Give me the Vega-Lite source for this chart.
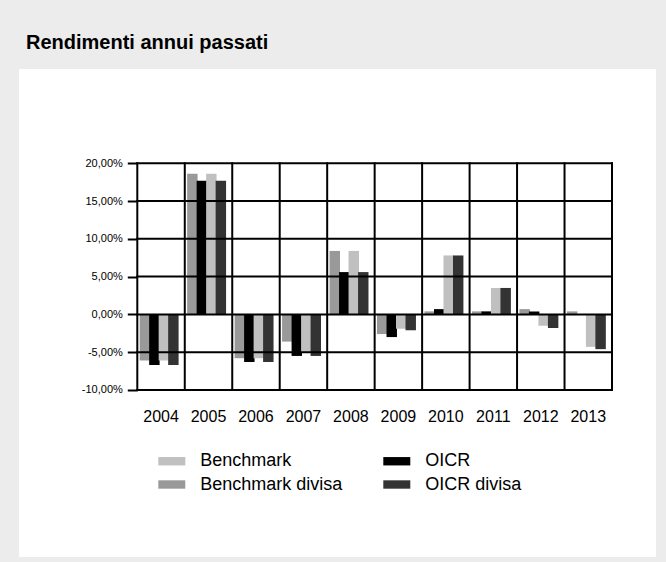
{
  "$schema": "https://vega.github.io/schema/vega-lite/v6.json",
  "width": 637,
  "height": 488,
  "autosize": {"type": "none"},
  "padding": {"left": 19, "top": 69, "right": 10, "bottom": 5},
  "background": "#ececec",
  "title": {
    "text": "Rendimenti annui passati",
    "anchor": "start",
    "frame": "group",
    "font": "Liberation Sans",
    "fontSize": 20,
    "fontWeight": "bold",
    "color": "#000000",
    "dx": 7,
    "offset": 16
  },
  "config": {
    "view": {"fill": "white", "stroke": null},
    "font": "Liberation Sans",
    "locale": {
      "number": {
        "decimal": ",",
        "thousands": ".",
        "grouping": [3],
        "currency": ["", " €"],
        "minus": "-"
      }
    }
  },
  "datasets": {
    "bars": [
      {"year": "2004", "series": "Benchmark divisa", "value": -0.061},
      {"year": "2004", "series": "OICR", "value": -0.067},
      {"year": "2004", "series": "Benchmark", "value": -0.061},
      {"year": "2004", "series": "OICR divisa", "value": -0.067},
      {"year": "2005", "series": "Benchmark divisa", "value": 0.186},
      {"year": "2005", "series": "OICR", "value": 0.177},
      {"year": "2005", "series": "Benchmark", "value": 0.186},
      {"year": "2005", "series": "OICR divisa", "value": 0.177},
      {"year": "2006", "series": "Benchmark divisa", "value": -0.058},
      {"year": "2006", "series": "OICR", "value": -0.063},
      {"year": "2006", "series": "Benchmark", "value": -0.058},
      {"year": "2006", "series": "OICR divisa", "value": -0.063},
      {"year": "2007", "series": "Benchmark divisa", "value": -0.036},
      {"year": "2007", "series": "OICR", "value": -0.055},
      {"year": "2007", "series": "Benchmark", "value": -0.051},
      {"year": "2007", "series": "OICR divisa", "value": -0.055},
      {"year": "2008", "series": "Benchmark divisa", "value": 0.084},
      {"year": "2008", "series": "OICR", "value": 0.056},
      {"year": "2008", "series": "Benchmark", "value": 0.084},
      {"year": "2008", "series": "OICR divisa", "value": 0.056},
      {"year": "2009", "series": "Benchmark divisa", "value": -0.026},
      {"year": "2009", "series": "OICR", "value": -0.030},
      {"year": "2009", "series": "Benchmark", "value": -0.019},
      {"year": "2009", "series": "OICR divisa", "value": -0.021},
      {"year": "2010", "series": "Benchmark divisa", "value": 0.004},
      {"year": "2010", "series": "OICR", "value": 0.007},
      {"year": "2010", "series": "Benchmark", "value": 0.078},
      {"year": "2010", "series": "OICR divisa", "value": 0.078},
      {"year": "2011", "series": "Benchmark divisa", "value": 0.004},
      {"year": "2011", "series": "OICR", "value": 0.004},
      {"year": "2011", "series": "Benchmark", "value": 0.035},
      {"year": "2011", "series": "OICR divisa", "value": 0.035},
      {"year": "2012", "series": "Benchmark divisa", "value": 0.007},
      {"year": "2012", "series": "OICR", "value": 0.004},
      {"year": "2012", "series": "Benchmark", "value": -0.015},
      {"year": "2012", "series": "OICR divisa", "value": -0.018},
      {"year": "2013", "series": "Benchmark divisa", "value": 0.004},
      {"year": "2013", "series": "OICR", "value": 0.0005},
      {"year": "2013", "series": "Benchmark", "value": -0.043},
      {"year": "2013", "series": "OICR divisa", "value": -0.046}
    ],
    "hgrid": [
      {"a": "2004", "b": "2013", "v": -0.1},
      {"a": "2004", "b": "2013", "v": -0.05},
      {"a": "2004", "b": "2013", "v": 0},
      {"a": "2004", "b": "2013", "v": 0.05},
      {"a": "2004", "b": "2013", "v": 0.1},
      {"a": "2004", "b": "2013", "v": 0.15},
      {"a": "2004", "b": "2013", "v": 0.2}
    ],
    "vgrid": [
      {"year": "2004", "lo": -0.1, "hi": 0.2},
      {"year": "2005", "lo": -0.1, "hi": 0.2},
      {"year": "2006", "lo": -0.1, "hi": 0.2},
      {"year": "2007", "lo": -0.1, "hi": 0.2},
      {"year": "2008", "lo": -0.1, "hi": 0.2},
      {"year": "2009", "lo": -0.1, "hi": 0.2},
      {"year": "2010", "lo": -0.1, "hi": 0.2},
      {"year": "2011", "lo": -0.1, "hi": 0.2},
      {"year": "2012", "lo": -0.1, "hi": 0.2},
      {"year": "2013", "lo": -0.1, "hi": 0.2}
    ],
    "vedge": [
      {"year": "2013", "lo": -0.1, "hi": 0.2}
    ]
  },
  "layer": [
    {
      "data": {"name": "bars"},
      "mark": {"type": "bar", "width": {"band": 1.1}},
      "encoding": {
        "x": {
          "field": "year",
          "type": "nominal",
          "title": null,
          "scale": {
            "type": "band",
            "domain": ["2004", "2005", "2006", "2007", "2008", "2009", "2010", "2011", "2012", "2013"],
            "range": [118.3, 593],
            "paddingInner": 0,
            "paddingOuter": 0
          },
          "axis": {
            "title": null,
            "offset": -167,
            "domain": false,
            "ticks": false,
            "grid": false,
            "labelAngle": 0,
            "labelFont": "Liberation Sans",
            "labelFontSize": 16,
            "labelColor": "#000000",
            "labelPadding": 18,
            "zindex": 2
          }
        },
        "xOffset": {
          "field": "series",
          "type": "nominal",
          "sort": ["Benchmark divisa", "OICR", "Benchmark", "OICR divisa"],
          "scale": {"paddingInner": 0, "paddingOuter": 0.5}
        },
        "y": {
          "field": "value",
          "type": "quantitative",
          "title": null,
          "stack": null,
          "scale": {"domain": [-0.3211, 0.3248], "nice": false, "zero": false},
          "axis": {
            "title": null,
            "values": [-0.1, -0.05, 0, 0.05, 0.1, 0.15, 0.2],
            "format": ".2%",
            "offset": -118.3,
            "domain": false,
            "grid": false,
            "ticks": true,
            "tickSize": 10,
            "tickWidth": 2,
            "tickColor": "#000000",
            "labelPadding": 5,
            "labelFont": "Liberation Sans",
            "labelFontSize": 11,
            "labelColor": "#000000",
            "zindex": 2
          }
        },
        "color": {
          "field": "series",
          "type": "nominal",
          "scale": {
            "domain": ["Benchmark", "Benchmark divisa", "OICR", "OICR divisa"],
            "range": ["#c0c0c0", "#999999", "#000000", "#333333"]
          },
          "legend": {
            "orient": "none",
            "legendX": 139.3,
            "legendY": 378.5,
            "columns": 2,
            "title": null,
            "padding": 0,
            "symbolType": "M-1,-0.31H1V0.31H-1Z",
            "symbolSize": 729,
            "symbolStrokeWidth": 0,
            "symbolOpacity": 1,
            "labelFont": "Liberation Sans",
            "labelFontSize": 18,
            "labelColor": "#000000",
            "labelOffset": 15,
            "labelLimit": 300,
            "columnPadding": 40,
            "rowPadding": 0.5
          }
        }
      }
    },
    {
      "data": {"name": "hgrid"},
      "mark": {"type": "rule", "stroke": "#000000", "strokeWidth": 2, "strokeCap": "square"},
      "encoding": {
        "x": {"field": "a", "type": "nominal", "title": null, "bandPosition": 0, "scale": {"type": "band"}},
        "x2": {"field": "b", "bandPosition": 1},
        "y": {"field": "v", "type": "quantitative", "title": null}
      }
    },
    {
      "data": {"name": "vgrid"},
      "mark": {"type": "rule", "stroke": "#000000", "strokeWidth": 2, "strokeCap": "square"},
      "encoding": {
        "x": {"field": "year", "type": "nominal", "title": null, "bandPosition": 0, "scale": {"type": "band"}},
        "y": {"field": "lo", "type": "quantitative", "title": null},
        "y2": {"field": "hi"}
      }
    },
    {
      "data": {"name": "vedge"},
      "mark": {"type": "rule", "stroke": "#000000", "strokeWidth": 2, "strokeCap": "square"},
      "encoding": {
        "x": {"field": "year", "type": "nominal", "title": null, "bandPosition": 1, "scale": {"type": "band"}},
        "y": {"field": "lo", "type": "quantitative", "title": null},
        "y2": {"field": "hi"}
      }
    }
  ]
}
